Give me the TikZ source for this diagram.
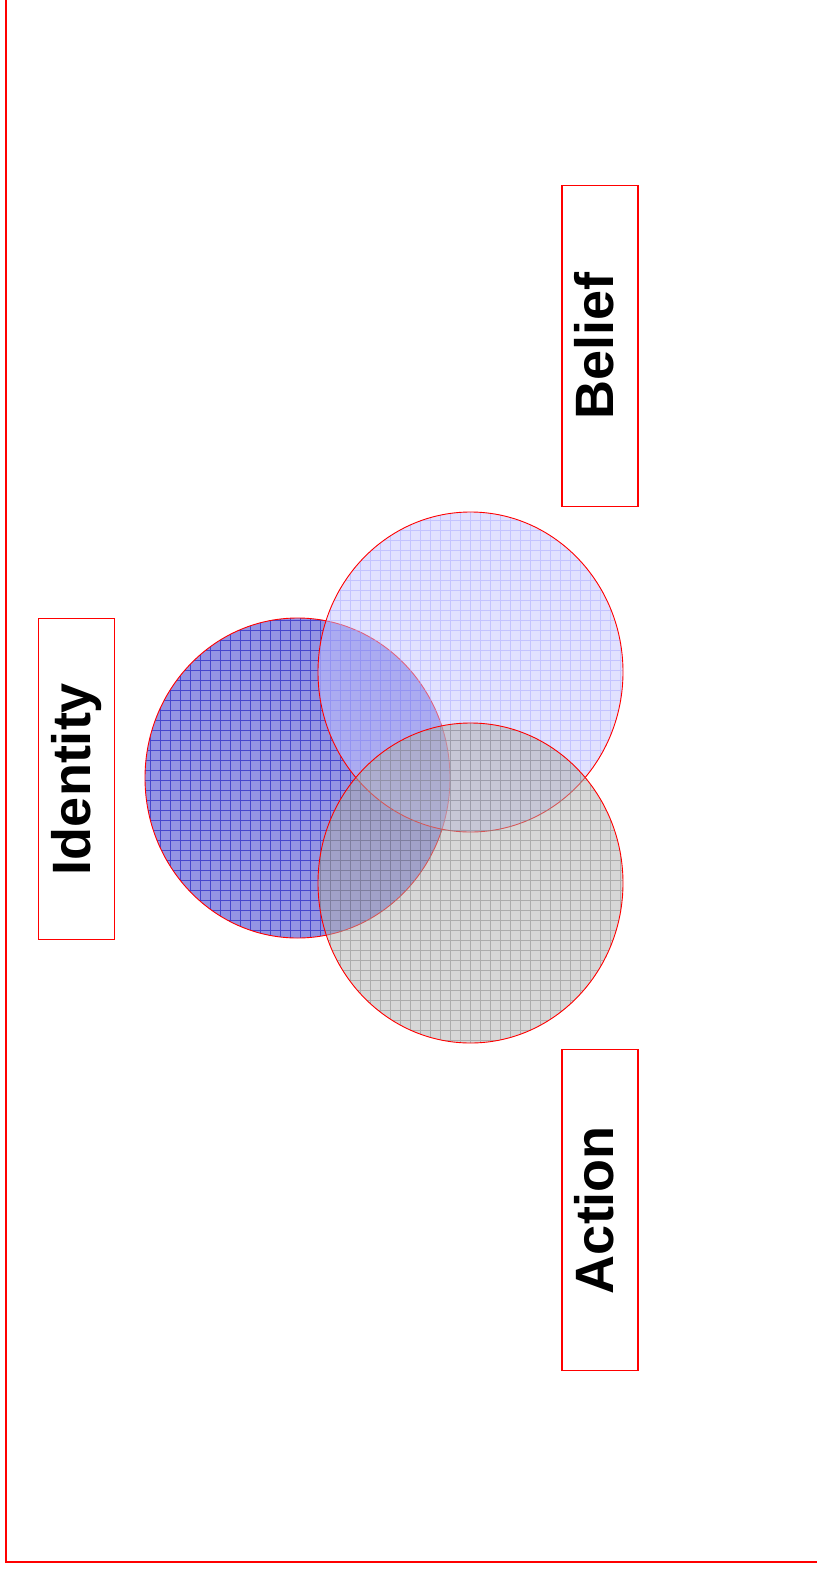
\documentclass[tikz,border=0pt]{standalone}
\usepackage{fontspec}
\setmainfont{Liberation Sans}
\definecolor{idfill}{RGB}{148,148,228}
\definecolor{idgrid}{RGB}{70,70,205}
\definecolor{befill}{RGB}{195,195,255}
\definecolor{begrid}{RGB}{165,165,255}
\definecolor{acfill}{RGB}{175,175,175}
\definecolor{acgrid}{RGB}{130,130,130}
\begin{document}
\begin{tikzpicture}[x=1pt,y=-1pt,
  lab/.style={draw=red, line width=1.5pt, rotate=90, minimum width=321pt,
    minimum height=76pt, inner sep=0pt, font=\fontsize{54}{60}\selectfont\bfseries},
  rim/.style={draw=red, line width=0.9pt},
  ]
\useasboundingbox (0,0) rectangle (817,1571);
\draw[red, line width=2pt] (6,0) -- (6,1562) -- (817,1562);

% Identity circle
\begin{scope}
  \clip (297.5,778) ellipse [x radius=152.5, y radius=160];
  \fill[idfill] (140,610) rectangle (460,950);
  \draw[idgrid, line width=0.6pt, step=10pt] (140,610) grid (460,950);
\end{scope}
\draw[rim] (297.5,778) ellipse [x radius=152.5, y radius=160];

% Belief circle
\begin{scope}
  \clip (470.5,672) ellipse [x radius=152.5, y radius=160];
  \fill[befill, fill opacity=0.5] (310,505) rectangle (630,840);
  \draw[begrid, line width=0.6pt, opacity=0.5, step=10pt] (310,505) grid (630,840);
\end{scope}
\draw[rim] (470.5,672) ellipse [x radius=152.5, y radius=160];

% Action circle
\begin{scope}
  \clip (470.5,883) ellipse [x radius=152.5, y radius=160];
  \fill[acfill, fill opacity=0.5] (310,715) rectangle (630,1050);
  \draw[acgrid, line width=0.6pt, opacity=0.5, step=10pt] (310,715) grid (630,1050);
\end{scope}
\draw[rim] (470.5,883) ellipse [x radius=152.5, y radius=160];

\node[lab] (belief) at (600,346) {};
\node[rotate=90, font=\fontsize{54}{60}\selectfont\bfseries] (belieft) at (594,346) {Belief};
\node[lab] (identity) at (76.5,779) {Identity};
\node[lab] (action) at (600,1210) {};
\node[rotate=90, font=\fontsize{54}{60}\selectfont\bfseries] (actiont) at (594,1210) {Action};
\end{tikzpicture}
\end{document}
